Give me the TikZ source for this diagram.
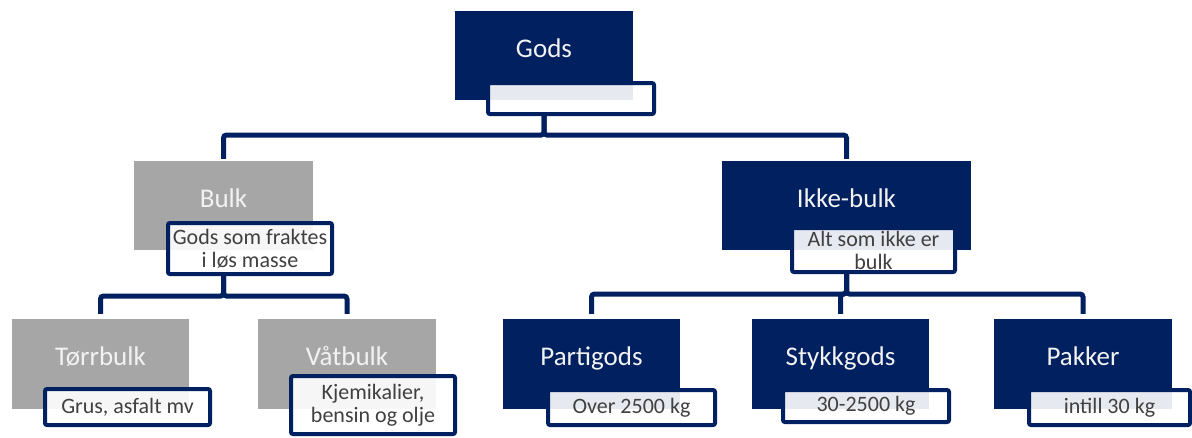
\documentclass[tikz,border=0pt]{standalone}
\usepackage{fontspec}
\setmainfont{Carlito}
\definecolor{navy}{HTML}{002060}
\definecolor{boxgray}{HTML}{A6A6A6}
\definecolor{subtext}{HTML}{404040}
\begin{document}
\begin{tikzpicture}[x=1pt,y=-1pt,
 titlebox/.style={fill=navy, text=white!95!black, minimum width=178pt, minimum height=89pt, inner sep=0pt, text height=20pt, text depth=17pt, font=\fontsize{27}{31}\selectfont},
 graybox/.style={titlebox, fill=boxgray},
 subbox/.style={draw=navy, line width=4pt, rounded corners=2pt, fill=white, fill opacity=0.9, text opacity=1, text=subtext, inner sep=0pt, align=center, font=\fontsize{22}{23}\selectfont},
 conn/.style={draw=navy, line width=5pt, rounded corners=3pt}]
\useasboundingbox (0,0) rectangle (1192,437);
% main boxes
\node[titlebox] (gods) at (544,55.5) {Gods};
\node[graybox, minimum width=179pt] (bulk) at (223.5,205.5) {Bulk};
\node[titlebox, minimum width=249pt] (ikke) at (846.5,205.5) {Ikke-bulk};
\node[graybox, minimum width=177pt, minimum height=90pt] (torr) at (100.5,364) {Tørrbulk};
\node[graybox, minimum width=178pt, minimum height=90pt] (vat) at (347,364) {Våtbulk};
\node[titlebox, minimum width=177pt, minimum height=90pt] (parti) at (591.5,364) {Partigods};
\node[titlebox, minimum width=177pt, minimum height=90pt] (stykk) at (840.5,364) {Stykkgods};
\node[titlebox, minimum width=178pt, minimum height=90pt] (pakker) at (1083,364) {Pakker};
% description boxes
\node[subbox, minimum width=166pt, minimum height=31pt] (godsd) at (571,98.5) {};
\node[subbox, minimum width=164pt, minimum height=51pt] (bulkd) at (250,248.5) {Gods som fraktes\\i løs masse};
\node[subbox, minimum width=163pt, minimum height=44pt] (ikked) at (873.5,250) {Alt som ikke er\\bulk};
\node[subbox, minimum width=165pt, minimum height=36pt] (torrd) at (127.5,407) {Grus, asfalt mv};
\node[subbox, minimum width=164pt, minimum height=58pt] (vatd) at (373,405) {Kjemikalier,\\bensin og olje};
\node[subbox, minimum width=167pt, minimum height=35pt] (partid) at (631.5,407.5) {Over 2500 kg};
\node[subbox, minimum width=166pt, minimum height=32pt] (stykkd) at (866,406) {30-2500 kg};
\node[subbox, minimum width=161pt, minimum height=35pt] (pakkerd) at (1109.5,407.5) {intill 30 kg};
% bus levels
\coordinate (busA) at (0,135);
\coordinate (busB) at (0,296);
\coordinate (busC) at (0,294);
% connectors
\draw[conn, shorten >=2pt] (gods |- godsd.south) -- (gods |- busA) -| (bulk.north);
\draw[conn, shorten >=2pt] (gods |- godsd.south) -- (gods |- busA) -| (ikke.north);
\draw[conn, shorten >=5pt] (bulk |- bulkd.south) -- (bulk |- busB) -| (torr.north);
\draw[conn, shorten >=5pt] (bulk |- bulkd.south) -- (bulk |- busB) -| (vat.north);
\draw[conn, shorten >=5pt] (ikke |- ikked.south) -- (ikke |- busC) -| (parti.north);
\draw[conn, shorten >=5pt] (ikke |- ikked.south) -- (ikke |- busC) -| (stykk.north);
\draw[conn, shorten >=5pt] (ikke |- ikked.south) -- (ikke |- busC) -| (pakker.north);
\end{tikzpicture}
\end{document}
